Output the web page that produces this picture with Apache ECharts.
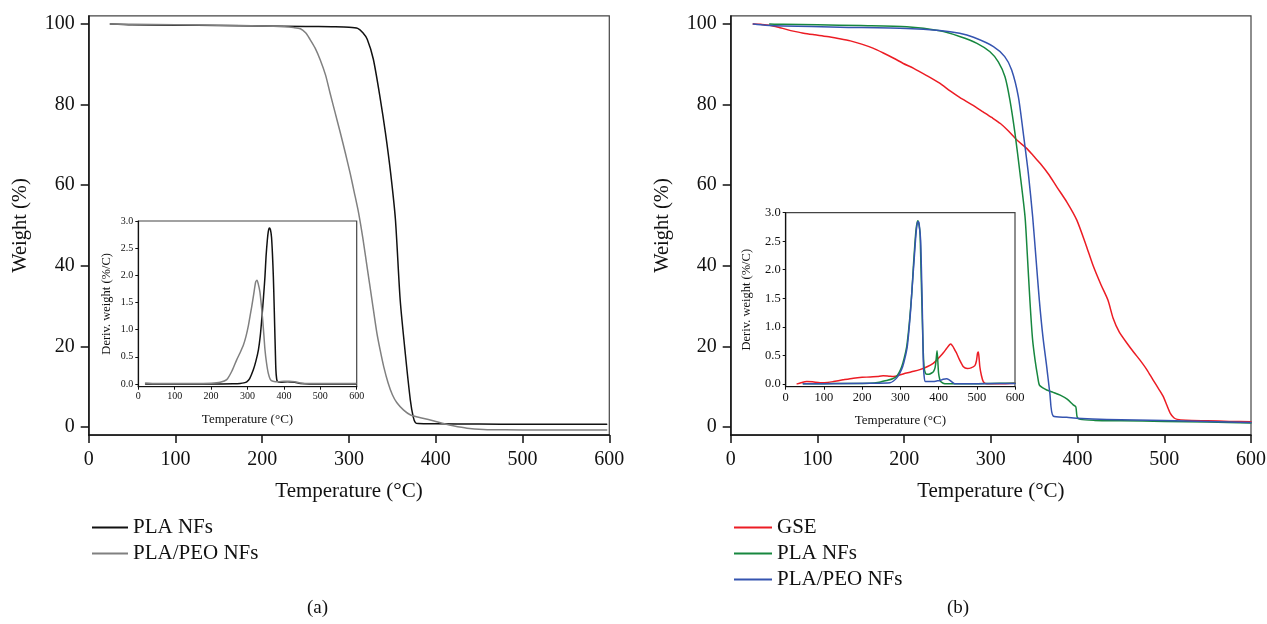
<!DOCTYPE html>
<html>
<head>
<meta charset="utf-8">
<script src="https://cdn.jsdelivr.net/npm/echarts@6/dist/echarts.min.js"></script>
<style>
html,body{margin:0;padding:0;background:#fff;}
#chart{width:1267px;height:624px;}
</style>
</head>
<body>
<div id="chart"></div>
<script>
// ---------- Data ----------
const xTicks = [0, 100, 200, 300, 400, 500, 600];
const weightTicks = [0, 20, 40, 60, 80, 100];
const derivTicks = [0, 0.5, 1.0, 1.5, 2.0, 2.5, 3.0];

// Panel (a) main TGA: [temperature, weight %]
const tgaA_PLA = [[25,100],[50,99.8],[100,99.7],[150,99.6],[200,99.5],[250,99.4],[280,99.3],[300,99.2],[310,98.9],[316,97.8],[321,96.2],[328,91.3],[336,81.5],[342,73],[348,63],[353.5,51.5],[359,31.5],[365,18],[370.7,6.7],[374,2.5],[376.5,1.1],[380,0.85],[400,0.8],[450,0.75],[500,0.7],[550,0.7],[597,0.7]];
const tgaA_PEO = [[25,100],[50,99.9],[100,99.8],[150,99.7],[200,99.5],[225,99.3],[236,99.1],[244,98.8],[250,97.8],[255,96.2],[261,94],[267,91],[273,87.3],[278,83],[284,78],[290,73],[296,67.8],[301.5,62.8],[306,58.3],[311,53.2],[316,46.8],[321,39.5],[326.5,31.5],[332,23.5],[336,19],[340,15],[345,11],[350,8],[355,6.1],[363,4.2],[371,3.0],[385,2.2],[398,1.5],[410,0.8],[420,0.3],[436,-0.3],[455,-0.6],[480,-0.7],[520,-0.72],[560,-0.74],[597,-0.75]];

// Panel (a) inset DTG: [temperature, deriv. weight %/C]
const dtgA_PLA = [[20,0],[100,0],[200,0],[260,0.005],[280,0.01],[290,0.02],[298,0.04],[306,0.1],[316,0.26],[323,0.42],[330,0.63],[335,0.88],[339,1.18],[344,1.6],[348,1.98],[351,2.35],[354.5,2.65],[357,2.8],[360,2.87],[363,2.84],[366,2.7],[368.5,2.4],[371,1.98],[373,1.5],[374.7,1.06],[376.5,0.6],[378,0.26],[380,0.1],[382,0.05],[390,0.03],[410,0.04],[430,0.03],[445,0.01],[500,0],[598,0]];
const dtgA_PEO = [[20,0.02],[50,0.01],[100,0.01],[150,0.01],[200,0.015],[225,0.03],[243,0.08],[258,0.25],[270,0.44],[280,0.58],[289,0.72],[296,0.88],[302,1.06],[307,1.25],[311.5,1.42],[317,1.65],[322.5,1.88],[326,1.91],[330,1.83],[334,1.7],[338,1.45],[341.7,1.18],[345,0.9],[348,0.63],[352,0.4],[357,0.2],[363,0.08],[370,0.05],[385,0.04],[400,0.05],[415,0.05],[430,0.04],[445,0.02],[470,0.01],[520,0.01],[598,0.01]];

// Panel (b) main TGA
const tgaB_GSE = [[26,100],[35,99.9],[45,99.7],[55,99.2],[65,98.6],[75,98.1],[84,97.7],[97,97.3],[111,96.9],[124,96.4],[138,95.8],[151,95],[164,94],[176,92.8],[188,91.5],[199,90.2],[211,89],[226,87.2],[241,85.3],[253,83.4],[264,81.8],[278,80],[291,78.2],[301,76.8],[311,75.3],[320,73.5],[330,71.2],[341,69.2],[349,67.3],[357,65.4],[367,62.6],[376,59.6],[388,55.7],[399,51.4],[410,45],[418,40],[427,35.3],[435,31.5],[441,27],[448,23.6],[457,20.8],[465,18.5],[472,16.6],[480,14.2],[487,11.7],[494,9.3],[499,7.5],[503,5.4],[507,3.4],[511,2.3],[515,1.9],[525,1.7],[550,1.55],[575,1.4],[600,1.3]];
const tgaB_PLA = [[45,100],[60,99.9],[100,99.8],[150,99.6],[203,99.3],[241,98.3],[264,96.9],[284,95.2],[299,93.1],[308.6,90.6],[316.3,86.9],[322,81.1],[327.8,72.9],[333.6,63],[339.4,52.2],[342,43],[345,31.5],[348,22],[351,16.6],[354,12.5],[356,10.4],[360,9.7],[364.4,9.2],[372,8.6],[380,7.9],[388,6.9],[395,5.5],[398,5.0],[399.5,2.5],[403,1.9],[420,1.65],[450,1.55],[500,1.4],[550,1.25],[600,1.0]];
const tgaB_PEO = [[26,100],[40,99.7],[61,99.5],[126,99.2],[203,98.9],[241,98.4],[264,97.7],[280,96.7],[303,94.4],[316,91.9],[324,88.6],[331.7,82],[337.4,72.9],[343.2,63],[348.2,52.2],[352,42],[355.9,31.5],[360,22.5],[364.4,15],[368,8.5],[372,2.7],[387.5,2.4],[399,2.2],[433.6,1.9],[500,1.6],[550,1.4],[600,1.1]];

// Panel (b) inset DTG
const dtgB_GSE = [[30,0],[40,0.02],[55,0.04],[70,0.035],[90,0.02],[110,0.025],[125,0.04],[150,0.07],[177,0.1],[200,0.115],[221,0.12],[240,0.13],[255,0.14],[270,0.135],[282,0.13],[300,0.16],[316,0.19],[335,0.22],[351,0.25],[370,0.3],[386,0.36],[396,0.42],[404,0.48],[413,0.55],[421,0.62],[428,0.68],[432,0.7],[437,0.66],[442,0.6],[447,0.54],[455,0.42],[465,0.3],[475,0.27],[485,0.28],[495,0.32],[499,0.4],[502,0.54],[504,0.56],[506,0.45],[508,0.3],[512,0.15],[517,0.04],[526,0],[560,0],[600,0.01]];
const dtgB_PLA = [[46,0],[100,0.003],[150,0.005],[221,0.01],[245,0.03],[264,0.06],[280,0.09],[290,0.13],[297,0.2],[303.5,0.3],[310,0.45],[316.5,0.65],[321,0.9],[325,1.18],[330,1.6],[334,2.05],[338,2.45],[341,2.7],[344,2.83],[346,2.86],[348.5,2.8],[351.5,2.64],[353,2.3],[355,1.76],[357,1.25],[358.4,0.89],[360,0.55],[362,0.3],[365,0.2],[369,0.17],[375,0.17],[382,0.19],[387,0.22],[391,0.29],[393.5,0.42],[396,0.58],[398,0.4],[400,0.19],[403,0.08],[405.5,0.04],[412,0.01],[421,0],[500,0.003],[560,0.01],[600,0.01]];
const dtgB_PEO = [[46,0],[100,0.003],[221,0.01],[273,0.02],[282,0.05],[290,0.1],[298,0.18],[306,0.3],[312,0.45],[318,0.65],[322,0.9],[327,1.3],[331,1.7],[336,2.17],[340,2.55],[343,2.76],[346,2.84],[348,2.84],[350.5,2.72],[353,2.52],[355,2.05],[357,1.47],[358.5,0.95],[360,0.42],[362,0.15],[365.5,0.04],[375,0.04],[386,0.04],[395,0.05],[404,0.06],[412,0.08],[421,0.09],[428,0.07],[434,0.04],[440,0.01],[443,0],[500,0.003],[600,0.005]];

const legendA = ['PLA NFs', 'PLA/PEO NFs'];
const legendB = ['GSE', 'PLA NFs', 'PLA/PEO NFs'];

// ---------- Styles ----------
const FONT = '"Liberation Serif", "DejaVu Serif", serif';
const C_BLACK = '#111111', C_GRAY = '#808080';
const C_RED = '#ec1c24', C_GREEN = '#17873f', C_BLUE = '#3554b0';

function mainX(gi) {
  return {
    type: 'value', gridIndex: gi, min: 0, max: 600, interval: 100,
    name: 'Temperature (°C)', nameLocation: 'middle', nameGap: 46,
    nameTextStyle: {fontFamily: FONT, fontSize: 21, color: '#111'},
    axisLine: {show: true, onZero: false, lineStyle: {color: '#111', width: 1.5}},
    axisTick: {show: true, inside: false, length: 8, lineStyle: {color: '#111', width: 1.5}},
    axisLabel: {fontFamily: FONT, fontSize: 20, color: '#111', margin: 15},
    splitLine: {show: false}
  };
}
function mainY(gi) {
  return {
    type: 'value', gridIndex: gi, min: -2, max: 102,
    name: 'Weight (%)', nameLocation: 'middle', nameGap: 58,
    nameTextStyle: {fontFamily: FONT, fontSize: 20.5, color: '#111'},
    axisLine: {show: true, onZero: false, lineStyle: {color: '#111', width: 1.5}},
    axisTick: {show: true, inside: false, length: 8, customValues: weightTicks, lineStyle: {color: '#111', width: 1.5}},
    axisLabel: {fontFamily: FONT, fontSize: 20, color: '#111', margin: 14, customValues: weightTicks},
    splitLine: {show: false}
  };
}
function insetX(gi, fs, gap) {
  return {
    type: 'value', gridIndex: gi, min: 0, max: 600, interval: 100,
    name: 'Temperature (°C)', nameLocation: 'middle', nameGap: gap,
    nameTextStyle: {fontFamily: FONT, fontSize: 13, color: '#111'},
    axisLine: {show: true, onZero: false, lineStyle: {color: '#111', width: 1.2}},
    axisTick: {show: true, inside: false, length: 3, lineStyle: {color: '#111', width: 1}},
    axisLabel: {fontFamily: FONT, fontSize: fs, color: '#111', margin: 5},
    splitLine: {show: false}
  };
}
function insetY(gi, fs, gap) {
  return {
    type: 'value', gridIndex: gi, min: -0.05, max: 3.0,
    name: 'Deriv. weight (%/C)', nameLocation: 'middle', nameGap: gap,
    nameTextStyle: {fontFamily: FONT, fontSize: 12.5, color: '#111'},
    axisLine: {show: true, onZero: false, lineStyle: {color: '#111', width: 1.2}},
    axisTick: {show: true, inside: false, length: 3, customValues: derivTicks, lineStyle: {color: '#111', width: 1}},
    axisLabel: {fontFamily: FONT, fontSize: fs, color: '#111', margin: 5, customValues: derivTicks,
      formatter: v => v.toFixed(1)},
    splitLine: {show: false}
  };
}
function line(name, data, color, xi, width) {
  return {
    type: 'line', name: name, data: data, xAxisIndex: xi, yAxisIndex: xi,
    showSymbol: false, symbol: 'none', smooth: 0.25,
    lineStyle: {color: color, width: width, join: 'round', cap: 'round'}, itemStyle: {color: color},
    silent: true, animation: false, z: 3
  };
}
const gridBase = {show: true, backgroundColor: 'transparent', borderColor: '#444', borderWidth: 1.2, containLabel: false, outerBoundsMode: 'none'};

const option = {
  backgroundColor: '#fff',
  animation: false,
  grid: [
    Object.assign({}, gridBase, {left: 88.7, top: 15.9, width: 520.6, height: 419.2}),
    Object.assign({}, gridBase, {left: 138.3, top: 221, width: 218.4, height: 165.7, backgroundColor: '#fff'}),
    Object.assign({}, gridBase, {left: 730.7, top: 15.9, width: 520.3, height: 419.2}),
    Object.assign({}, gridBase, {left: 785.7, top: 212.7, width: 229.3, height: 174, backgroundColor: '#fff'})
  ],
  xAxis: [mainX(0), insetX(1, 10, 26), mainX(2), insetX(3, 12.5, 27)],
  yAxis: [mainY(0), insetY(1, 10, 25), mainY(2), insetY(3, 12.5, 32)],
  legend: [
    {
      left: 87, top: 512, orient: 'vertical', icon: 'rect', itemWidth: 36, itemHeight: 2, itemGap: 5,
      selectedMode: false,
      textStyle: {fontFamily: FONT, fontSize: 21, color: '#111'},
      data: [
        {name: legendA[0], itemStyle: {color: C_BLACK}, lineStyle: {color: C_BLACK}},
        {name: legendA[1], itemStyle: {color: C_GRAY}, lineStyle: {color: C_GRAY}}
      ]
    },
    {
      left: 729, top: 512, orient: 'vertical', icon: 'rect', itemWidth: 38, itemHeight: 2, itemGap: 5,
      selectedMode: false,
      textStyle: {fontFamily: FONT, fontSize: 21, color: '#111'},
      data: [
        {name: legendB[0], itemStyle: {color: C_RED}, lineStyle: {color: C_RED}},
        {name: legendB[1], itemStyle: {color: C_GREEN}, lineStyle: {color: C_GREEN}},
        {name: legendB[2], itemStyle: {color: C_BLUE}, lineStyle: {color: C_BLUE}}
      ]
    }
  ],
  graphic: [
    {type: 'text', left: 307, top: 599, style: {text: '(a)', font: '19px ' + FONT, fill: '#111'}},
    {type: 'text', left: 947, top: 599, style: {text: '(b)', font: '19px ' + FONT, fill: '#111'}}
  ],
  series: [
    line(legendA[0], tgaA_PLA, C_BLACK, 0, 1.5),
    line(legendA[1], tgaA_PEO, C_GRAY, 0, 1.5),
    line(legendA[0], dtgA_PLA, C_BLACK, 1, 1.5),
    line(legendA[1], dtgA_PEO, C_GRAY, 1, 1.5),
    line(legendB[0], tgaB_GSE, C_RED, 2, 1.5),
    line(legendB[1], tgaB_PLA, C_GREEN, 2, 1.5),
    line(legendB[2], tgaB_PEO, C_BLUE, 2, 1.5),
    line(legendB[0], dtgB_GSE, C_RED, 3, 1.5),
    line(legendB[1], dtgB_PLA, C_GREEN, 3, 1.5),
    line(legendB[2], dtgB_PEO, C_BLUE, 3, 1.5)
  ]
};

const chart = echarts.init(document.getElementById('chart'), null, {renderer: 'canvas'});
chart.setOption(option);
</script>
</body>
</html>
